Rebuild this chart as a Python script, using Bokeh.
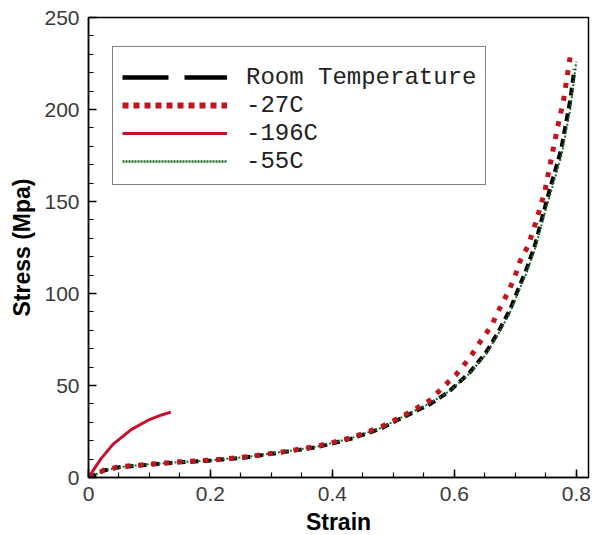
from bokeh.plotting import figure
from bokeh.models import Range1d, SingleIntervalTicker, Legend, LegendItem
from bokeh.embed import file_html
from bokeh.resources import INLINE

# ---- data ----
room_strain = [0, 0.008, 0.025, 0.05, 0.1, 0.15, 0.2, 0.26, 0.32, 0.375, 0.43, 0.48, 0.505,
               0.53, 0.561, 0.592, 0.625, 0.652, 0.672, 0.691, 0.702, 0.718, 0.732, 0.751,
               0.775, 0.79, 0.797]
room_stress = [0, 1, 3.8, 5.6, 7, 8.3, 9.2, 11, 13.8, 16.5, 21, 26.6, 31,
               35, 40, 47, 57, 68, 79, 91, 100, 113, 126, 150,
               178, 205, 222]

m27_strain = [0, 0.008, 0.025, 0.05, 0.1, 0.15, 0.2, 0.26, 0.32, 0.375, 0.43, 0.48, 0.53,
              0.56, 0.581, 0.603, 0.625, 0.644, 0.661, 0.674, 0.688, 0.699, 0.707, 0.721,
              0.733, 0.748, 0.76, 0.771, 0.779, 0.786, 0.791]
m27_stress = [0, 1.2, 4, 5.8, 7.2, 8.5, 9.4, 11.3, 14, 17, 21.5, 27.5, 36,
              42, 49, 56, 65, 74.5, 82.6, 91.7, 100.7, 108.9, 117, 126,
              138, 155, 175, 193, 205, 220, 231]

m196_strain = [0, 0.003, 0.01, 0.02, 0.04, 0.07, 0.1, 0.12, 0.135]
m196_stress = [0, 1.5, 5, 10, 18, 26, 31.5, 34, 35.5]

m55_strain = [0, 0.01, 0.03, 0.06, 0.1, 0.15, 0.2, 0.26, 0.32, 0.375, 0.43, 0.48, 0.53,
              0.561, 0.592, 0.625, 0.652, 0.672, 0.691, 0.702, 0.718, 0.732, 0.751,
              0.775, 0.79, 0.8]
m55_stress = [0, 1.5, 4.2, 6, 7.2, 8.4, 9.3, 11.2, 14, 16.8, 21.3, 27, 35.5,
              40.5, 47, 56.5, 67, 78, 89.5, 98.5, 111, 124, 147,
              174, 200, 226]

series_labels = ["Room Temperature", "-27C", "-196C", "-55C"]
x_title = "Strain"
y_title = "Stress (Mpa)"

# ---- figure ----
p = figure(frame_width=500, frame_height=460,
           x_range=Range1d(0, 0.82), y_range=Range1d(0, 250),
           output_backend="svg", toolbar_location=None,
           min_border_left=88, min_border_top=17, min_border_right=4, min_border_bottom=58)
p.grid.visible = False
p.outline_line_color = "black"
p.outline_line_width = 1.5
p.background_fill_color = "white"
p.border_fill_color = "white"

p.xaxis.ticker = SingleIntervalTicker(interval=0.2, num_minor_ticks=4)
p.yaxis.ticker = SingleIntervalTicker(interval=50, num_minor_ticks=5)
for ax in (p.xaxis, p.yaxis):
    ax.major_tick_in = 8
    ax.major_tick_out = 0
    ax.minor_tick_in = 5
    ax.minor_tick_out = 0
    ax.axis_line_color = "black"
    ax.axis_line_width = 1.5
    ax.major_tick_line_width = 1.5
    ax.minor_tick_line_width = 1.2
    ax.major_label_text_font = "Liberation Sans"
    ax.major_label_text_font_size = "21px"
    ax.major_label_text_color = "#3a3a3a"
    ax.axis_label_text_font = "Liberation Sans"
    ax.axis_label_text_font_size = "23px"
    ax.axis_label_text_font_style = "bold"
    ax.axis_label_text_color = "black"
p.xaxis.axis_label = x_title
p.yaxis.axis_label = y_title
p.xaxis.major_label_standoff = 9
p.yaxis.major_label_standoff = 9
p.xaxis.axis_label_standoff = 5
p.yaxis.axis_label_standoff = 6
p.xaxis.major_label_overrides = {0: "0"}

# ---- data curves ----
p.line(room_strain, room_stress, line_color="black", line_width=4, line_dash="8 5")
p.line(m55_strain, m55_stress, line_color="#1f6b2a", line_width=2, line_dash="2 2")
p.line(m27_strain, m27_stress, line_color="#c0141e", line_width=5, line_dash="5 8")
p.line(m196_strain, m196_stress, line_color="#c8102e", line_width=3)

# ---- legend proxies (a single NaN point, never drawn in the plot) ----
nan = float("nan")
r1 = p.line([nan], [nan], line_color="black", line_width=4.5, line_dash="46 16")
r2 = p.line([nan], [nan], line_color="#c0141e", line_width=6, line_dash="6 5")
r3 = p.line([nan], [nan], line_color="#c8102e", line_width=3)
r4 = p.line([nan], [nan], line_color="#1f6b2a", line_width=2.5, line_dash="2 1")

legend = Legend(items=[LegendItem(label=series_labels[0], renderers=[r1]),
                       LegendItem(label=series_labels[1], renderers=[r2]),
                       LegendItem(label=series_labels[2], renderers=[r3]),
                       LegendItem(label=series_labels[3], renderers=[r4])],
                location=(24, 292))
legend.title = " "
legend.title_text_font_size = "7px"
legend.title_standoff = 0
legend.padding = 9
legend.margin = 0
legend.spacing = 0
legend.glyph_width = 105
legend.glyph_height = 28
legend.label_height = 28
legend.label_standoff = 19
legend.label_text_font = "Liberation Mono"
legend.label_text_font_size = "24px"
legend.label_text_color = "#222222"
legend.border_line_color = "black"
legend.border_line_width = 1.5
legend.background_fill_color = "white"
legend.background_fill_alpha = 1
p.add_layout(legend, "center")

open("out.html", "w").write(file_html(p, INLINE))
